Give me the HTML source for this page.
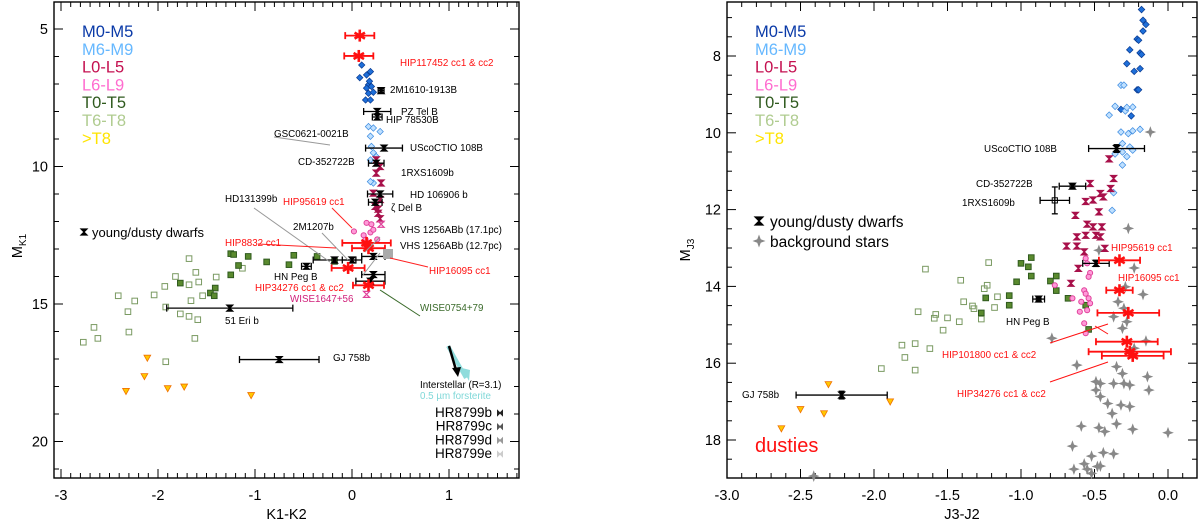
<!DOCTYPE html>
<html><head><meta charset="utf-8"><style>
body{margin:0;background:#fff;}
svg{display:block;font-family:"Liberation Sans",Arial,sans-serif;}
</style></head><body>
<svg id="c" width="1200" height="526" viewBox="0 0 1200 526"></svg>
<script>
// ===== Left panel data (K1-K2 vs M_K1) =====
const L_m05x=[0.10,0.19,0.08,0.15,0.17,0.15,0.20,0.17,0.14,0.19,0.22,0.18];
const L_m05y=[6.31,6.55,6.77,6.67,7.03,7.15,7.09,7.34,7.58,7.58,7.3,6.9];
const L_m69x=[0.17,0.22,0.29,0.19,0.20,0.22,0.25,0.19,0.22,0.19];
const L_m69y=[8.55,8.60,8.73,8.90,9.27,9.50,9.64,9.76,10.60,10.55];
const L_l05x=[0.25,0.29,0.25,0.30,0.22,0.29,0.24,0.27,0.29,0.27];
const L_l05y=[9.76,10.0,10.24,10.60,10.97,11.20,11.45,11.70,11.90,11.55];
const L_l69x=[0.02,0.15,0.19,0.14,0.22,0.17,0.26,0.12,0.20];
const L_l69y=[12.36,12.05,12.40,12.65,12.30,12.90,12.65,12.50,12.10];
const L_t05x=[-1.25,-1.22,-1.07,-0.88,-0.65,-0.60,-0.36,-0.18,-1.17,-1.25,-1.77,-1.41,-1.46,-1.42];
const L_t05y=[13.17,13.20,13.27,13.47,13.57,13.23,13.27,13.45,13.60,13.94,14.24,14.42,14.60,14.70];
const L_t68x=[-1.68,-1.13,-1.82,-1.61,-1.40,-1.93,-1.68,-1.58,-2.41,-2.04,-2.24,-1.54,-1.66,-2.31,-1.92,-1.77,-1.68,-1.59,-2.66,-2.30,-2.62,-1.62,-2.77,-1.92];
const L_t68y=[13.35,13.70,14.00,13.85,14.02,14.36,14.30,14.20,14.70,14.67,14.89,14.70,14.88,15.28,15.11,15.36,15.45,15.57,15.85,16.02,16.25,16.25,16.39,17.10];
const L_t8x=[-2.11,-2.14,-2.33,-1.90,-1.73,-1.04];
const L_t8y=[16.96,17.63,18.17,18.07,18.01,18.32];
const L_redx=[0.08,0.07,0.15,0.17,-0.04,0.17];
const L_redy=[5.24,5.98,12.78,12.97,13.69,14.32];
const L_redex=[0.15,0.15,0.25,0.17,0.17,0.16];
const L_blkx=[0.30,0.26,0.26,0.33,0.25,0.29,0.24,0.00,-0.18,-0.47,0.22,-1.26,0.22,0.19,-0.75];
const L_blky=[7.24,8.00,8.20,9.33,9.88,11.00,11.30,13.40,13.40,13.63,13.27,15.15,13.93,14.17,17.02];
const L_blkex=[0.03,0.14,0.05,0.19,0.08,0.13,0.07,0.10,0.22,0.05,0.12,0.65,0.12,0.15,0.41];
// ===== Right panel data (J3-J2 vs M_J3) =====
const R_m05x=[-0.18,-0.17,-0.15,-0.17,-0.21,-0.20,-0.26,-0.19,-0.18,-0.28,-0.19,-0.23,-0.21,-0.20,-0.32,-0.25];
const R_m05y=[6.79,7.07,7.18,7.35,7.56,7.59,7.84,7.92,7.96,8.20,8.33,8.40,8.88,8.88,9.39,9.56];
const R_m69x=[-0.32,-0.30,-0.36,-0.40,-0.29,-0.24,-0.28,-0.32,-0.27,-0.24,-0.19,-0.31,-0.26,-0.31,-0.24,-0.36,-0.28,-0.31,-0.37,-0.38];
const R_m69y=[8.76,8.76,9.31,9.54,9.43,9.33,9.34,9.98,10.02,9.95,9.91,10.28,10.37,10.50,10.45,10.55,10.62,10.84,11.56,12.02];
const R_l05x=[-0.40,-0.37,-0.53,-0.39,-0.46,-0.51,-0.56,-0.44,-0.47,-0.63,-0.55,-0.56,-0.62,-0.69,-0.62,-0.43,-0.45,-0.51,-0.49,-0.46,-0.57,-0.61,-0.66];
const R_l05y=[10.68,11.19,11.32,11.45,11.58,11.75,11.79,11.67,12.06,12.15,12.38,12.67,12.71,12.95,12.95,13.01,12.45,12.45,12.67,12.71,13.10,13.53,13.92];
const R_l69x=[-0.56,-0.55,-0.53,-0.54,-0.57,-0.56,-0.54,-0.59,-0.53,-0.55,-0.57,-0.77,-0.65,-0.60,-0.56];
const R_l69y=[13.27,13.40,13.65,13.75,14.10,14.19,14.31,14.40,14.44,14.62,14.96,13.97,14.31,14.66,15.22];
const R_t05x=[-1.00,-0.95,-0.93,-0.93,-1.03,-1.24,-1.08,-1.08,-1.27,-0.76,-0.80,-0.76,-0.68,-0.56,-0.54];
const R_t05y=[13.40,13.49,13.25,13.73,13.88,14.30,14.24,14.49,14.69,13.73,13.86,14.11,14.31,14.49,15.12];
const R_t68x=[-1.65,-1.41,-1.22,-1.23,-1.25,-1.16,-1.39,-1.33,-1.32,-1.18,-1.27,-1.70,-1.58,-1.59,-1.50,-1.42,-1.53,-1.81,-1.72,-1.62,-1.79,-1.95,-1.72];
const R_t68y=[13.55,13.84,13.38,13.97,14.06,14.27,14.40,14.51,14.58,14.55,14.85,14.66,14.73,14.83,14.82,14.92,15.14,15.53,15.49,15.62,15.85,16.14,16.18];
const R_t8x=[-2.31,-1.89,-2.50,-2.34,-2.63];
const R_t8y=[16.55,17.00,17.20,17.31,17.70];
const R_bgx=[-0.12,-0.27,-0.47,-0.23,-0.29,-0.17,-0.34,-0.30,-0.37,-0.28,-0.31,-0.15,-0.23,-0.79,-0.35,-0.62,-0.31,-0.14,-0.49,-0.46,-0.37,-0.30,-0.26,-0.49,-0.13,-0.46,-0.41,-0.32,-0.26,-0.38,-0.59,-0.47,-0.43,-0.35,-0.24,0.00,-0.65,-0.52,-0.44,-0.37,-0.57,-0.48,-0.64,-0.55,-0.52,-0.46,-2.41];
const R_bgy=[9.98,12.49,13.06,13.52,14.01,14.21,14.40,14.57,14.79,14.92,15.09,15.42,15.61,15.35,16.09,16.05,16.27,16.35,16.48,16.53,16.53,16.53,16.57,16.70,16.70,16.87,17.05,17.09,17.13,17.31,17.64,17.68,17.78,17.58,17.72,17.81,18.16,18.42,18.33,18.36,18.62,18.69,18.76,18.76,18.87,18.68,18.94];
const R_redx=[-0.33,-0.33,-0.27,-0.28,-0.26,-0.24];
const R_redy=[13.32,14.10,14.69,15.44,15.70,15.81];
const R_redex=[0.14,0.09,0.21,0.21,0.28,0.21];
const R_blkx=[-0.35,-0.65,-0.77,-0.49,-0.88,-2.22];
const R_blky=[10.41,11.39,11.76,13.40,14.33,16.83];
const R_blkex=[0.19,0.09,0.10,0.09,0.04,0.31];
const R_blkey=[0.10,0.04,0.35,0.08,0.03,0.10];

const NS="http://www.w3.org/2000/svg";
const svg=document.getElementById('c');
function el(tag,attrs,parent){const e=document.createElementNS(NS,tag);for(const k in attrs)e.setAttribute(k,attrs[k]);(parent||svg).appendChild(e);return e;}
function txt(s,x,y,size,fill,anchor,name,parent){const t=el('text',{x:x,y:y,'font-size':size,fill:fill,'text-anchor':anchor||'start'},parent);t.textContent=s;


return t;}

const LX=v=>352+v*97, LY=v=>29+(v-5)*27.5;
const RX=v=>1168+v*147, RY=v=>56+(v-8)*38.4;

function mark(g,shape,x,y,fill,stroke,s){
  s=s||3.2;let e;
  if(shape==='diamond')e=el('polygon',{points:`${x},${y-s} ${x+s},${y} ${x},${y+s} ${x-s},${y}`,fill:fill,stroke:stroke,'stroke-width':0.7},g);
  else if(shape==='square')e=el('rect',{x:x-s+0.4,y:y-s+0.4,width:2*s-0.8,height:2*s-0.8,fill:fill,stroke:stroke,'stroke-width':1},g);
  else if(shape==='circle')e=el('circle',{cx:x,cy:y,r:s*0.85,fill:fill,stroke:stroke,'stroke-width':1},g);
  else if(shape==='tri')e=el('polygon',{points:`${x-s},${y-s*0.8} ${x+s},${y-s*0.8} ${x},${y+s}`,fill:fill,stroke:stroke,'stroke-width':0.8},g);
  else if(shape==='hour')e=el('polygon',{points:`${x-s},${y-s} ${x+s},${y-s} ${x-s},${y+s} ${x+s},${y+s}`,fill:fill,stroke:stroke,'stroke-width':1.2},g);
  else if(shape==='bow')e=el('polygon',{points:`${x-s},${y-s} ${x-s},${y+s} ${x+s},${y-s} ${x+s},${y+s}`,fill:fill,stroke:stroke,'stroke-width':1},g);
  else if(shape==='star'){const a=s*1.3,b=s*0.35;e=el('polygon',{points:`${x},${y-a} ${x+b},${y-b} ${x+a},${y} ${x+b},${y+b} ${x},${y+a} ${x-b},${y+b} ${x-a},${y} ${x-b},${y-b}`,fill:fill,stroke:'none'},g);}
  return e;
}
function series(name,xs,ys,sx,sy,shape,fill,stroke,s){
  const g=el('g',{});
  
  
  for(let i=0;i<xs.length;i++){const m=mark(g,shape,sx(xs[i]),sy(ys[i]),fill,stroke,s);
    
    }
}
function errs(name,xs,ys,ex,ey,sx,sy,color,w,kind,open){
  const g=el('g',{});
  
  
  for(let i=0;i<xs.length;i++){
    const cx=sx(xs[i]),cy=sy(ys[i]),x1=sx(xs[i]-ex[i]),x2=sx(xs[i]+ex[i]);
    el('line',{x1:x1,y1:cy,x2:x2,y2:cy,stroke:color,'stroke-width':w},g);
    el('line',{x1:x1,y1:cy-3.5,x2:x1,y2:cy+3.5,stroke:color,'stroke-width':w},g);
    el('line',{x1:x2,y1:cy-3.5,x2:x2,y2:cy+3.5,stroke:color,'stroke-width':w},g);
    if(ey){const y1=sy(ys[i]-ey[i]),y2=sy(ys[i]+ey[i]);
      el('line',{x1:cx,y1:y1,x2:cx,y2:y2,stroke:color,'stroke-width':w},g);
      el('line',{x1:cx-3,y1:y1,x2:cx+3,y2:y1,stroke:color,'stroke-width':w},g);
      el('line',{x1:cx-3,y1:y2,x2:cx+3,y2:y2,stroke:color,'stroke-width':w},g);}
    let m;
    if(kind==='red'){m=el('g',{},g);
      for(const a of [0,60,120]){el('line',{x1:cx-6,y1:cy,x2:cx+6,y2:cy,stroke:color,'stroke-width':2.6,transform:`rotate(${a+90} ${cx} ${cy})`},m);} }
    else m=mark(g,(open&&open[i])?'square':'hour',cx,cy,(open&&open[i])?'none':color,color,3);
    
    
  }
}
function frame(name,x0,x1,y0,y1,sx,sy,xmaj,xmin,xa,xb,ymaj,ymin,ya,yb,xlabels,ylabels,xtitle){
  const g=el('g',{});
  
  
  el('rect',{x:x0,y:y0,width:x1-x0,height:y1-y0,fill:'none',stroke:'#000','stroke-width':1.4},g);
  for(let v=xa;v<=xb+1e-6;v+=xmin){const X=sx(v);if(X<x0||X>x1)continue;const maj=Math.abs(v/xmaj-Math.round(v/xmaj))<1e-3;const L=maj?9:5;
    el('line',{x1:X,y1:y1,x2:X,y2:y1-L,stroke:'#000','stroke-width':1},g);el('line',{x1:X,y1:y0,x2:X,y2:y0+L,stroke:'#000','stroke-width':1},g);}
  for(let v=ya;v<=yb+1e-6;v+=ymin){const Y=sy(v);if(Y<y0||Y>y1)continue;const maj=Math.abs(v/ymaj-Math.round(v/ymaj))<1e-3;const L=maj?9:5;
    el('line',{x1:x0,y1:Y,x2:x0+L,y2:Y,stroke:'#000','stroke-width':1},g);el('line',{x1:x1,y1:Y,x2:x1-L,y2:Y,stroke:'#000','stroke-width':1},g);}
  xlabels.forEach(([v,s])=>txt(s,sx(v),500,14.5,'#000','middle',name+'-x-tick-label',g));
  ylabels.forEach(([v,s])=>txt(s,x0-6,sy(v)+5,14.5,'#000','end',name+'-y-tick-label',g));
  txt(xtitle,(x0+x1)/2,519,14.5,'#000','middle',name+'-x-axis-title',g);
}
function legend(prefix,x){
  const items=[['M0-M5','#0a3aa8'],['M6-M9','#66b8ff'],['L0-L5','#c41050'],['L6-L9','#ff6ccf'],['T0-T5','#2f5a1e'],['T6-T8','#b0cc90'],['>T8','#ffe400']];
  items.forEach((it,i)=>txt(it[0],x,37+i*17.8,16.5,it[1],'start',prefix+'-legend-'+it[0].toLowerCase().replace('>','gt-'),svg));
}

// ---------- LEFT ----------
frame('left',54,519,2,478,LX,LY,1,0.1,-3,1.7,5,1,5,21,[[-3,'-3'],[-2,'-2'],[-1,'-1'],[0,'0'],[1,'1']],[[5,'5'],[10,'10'],[15,'15'],[20,'20']],'K1-K2');
const yl=txt('M',22,246,14.5,'#000','middle','left-y-axis-title');yl.setAttribute('transform','rotate(-90 22 246)');
const ys=el('tspan',{'font-size':10,dy:4});ys.textContent='K1';yl.appendChild(ys);
legend('left',82);
mark(svg,'hour',84,232,'#000','#000',3);
txt('young/dusty dwarfs',92,237,13,'#000','start','left-legend-young-dusty');
series('left-t68',L_t68x,L_t68y,LX,LY,'square','none','#7a9a62',3.2);
series('left-t05',L_t05x,L_t05y,LX,LY,'square','#5a8a2e','#2f5a1e',3.2);
series('left-gtt8',L_t8x,L_t8y,LX,LY,'tri','#ffc800','#f07000',3.4);
series('left-m05',L_m05x,L_m05y,LX,LY,'diamond','#1e6fd9','#0a3a90',3.2);
series('left-m69',L_m69x,L_m69y,LX,LY,'diamond','#bfe0ff','#3a8ae0',3.2);
series('left-l05',L_l05x,L_l05y,LX,LY,'hour','#a8104a','#a8104a',3);
series('left-l69',L_l69x,L_l69y,LX,LY,'circle','#ff9ad8','#e0409a',3);
errs('left-companions',L_blkx,L_blky,L_blkex,null,LX,LY,'#000',1.3,'blk',[0,0,0,0,0,0,0,0,0,0,0,0,0,0,0]);
errs('left-dusties',L_redx,L_redy,L_redex,null,LX,LY,'#ff1010',1.8,'red');
mark(svg,'hour',LX(0.3),LY(12.1),'none','#e0409a',3);
mark(svg,'hour',LX(0.15),LY(14.65),'none','#e0409a',3);
el('rect',{x:383,y:249,width:10,height:10,fill:'#aaa'});
[[254,208,330,262,'#999'],[332,208,352,228,'#f22'],[322,233,348,260,'#999'],[258,244,336,248,'#f22'],[428,267,390,258,'#f22'],[420,316,380,290,'#3a6a2a'],[274,137,330,145,'#999'],[380,237,365,252,'#999'],[380,253,363,275,'#999']].forEach(l=>{const e=el('line',{x1:l[0],y1:l[1],x2:l[2],y2:l[3],stroke:l[4],'stroke-width':1});});
const LL=[['HIP117452 cc1 & cc2',400,66,'#ff1010'],['2M1610-1913B',390,93,'#000'],['PZ Tel B',401,115,'#000'],['HIP 78530B',386,123,'#000'],['GSC0621-0021B',274,137,'#000'],['UScoCTIO 108B',410,151,'#000'],['CD-352722B',298,165,'#000'],['1RXS1609b',401,176,'#000'],['HD 106906 b',410,198,'#000'],['ζ Del B',391,211,'#000'],['HD131399b',225,202,'#000'],['HIP95619 cc1',283,205,'#ff1010'],['2M1207b',293,230,'#000'],['VHS 1256ABb (17.1pc)',400,233,'#000'],['VHS 1256ABb (12.7pc)',400,249,'#000'],['HIP8832 cc1',225,246,'#ff1010'],['HIP16095 cc1',429,274,'#ff1010'],['HN Peg B',274,280,'#000'],['HIP34276 cc1 & cc2',255,291,'#ff1010'],['WISE1647+56',290,302,'#d0207a'],['WISE0754+79',420,311,'#3a6a2a'],['51 Eri b',225,324,'#000'],['GJ 758b',333,361,'#000'],['Interstellar (R=3.1)',420,388,'#000'],['0.5 µm forsterite',420,399,'#7fd8d8']];
LL.forEach(l=>txt(l[0],l[1],l[2],9.8,l[3],'start','left-label-'+l[0].toLowerCase().replace(/[^a-z0-9]+/g,'-')));
el('line',{x1:448,y1:346,x2:466,y2:378,stroke:'#8fdcdc','stroke-width':4});
el('line',{x1:449,y1:346,x2:456,y2:370,stroke:'#000','stroke-width':2.5});
el('polygon',{points:'452,368 461,367 458,377'});
el('polygon',{points:'462,368 470,370 469,381',fill:'#8fdcdc'});
[['HR8799b','#222'],['HR8799c','#555'],['HR8799d','#999'],['HR8799e','#ccc']].forEach((h,i)=>{const y=417+i*13.7;txt(h[0],492,y,13.5,'#000','end','left-legend-'+h[0].toLowerCase());
  const m=mark(svg,'bow',500,y-4,h[1],h[1],2.5);
  });

// ---------- RIGHT ----------
frame('right',727,1197,2,478,RX,RY,0.5,0.1,-3,0.2,2,0.5,6.5,19,[[-3,'-3.0'],[-2.5,'-2.5'],[-2,'-2.0'],[-1.5,'-1.5'],[-1,'-1.0'],[-0.5,'-0.5'],[0,'0.0']],[[8,'8'],[10,'10'],[12,'12'],[14,'14'],[16,'16'],[18,'18']],'J3-J2');
const yr=txt('M',690,250,14.5,'#000','middle','right-y-axis-title');yr.setAttribute('transform','rotate(-90 690 250)');
const yrs=el('tspan',{'font-size':10,dy:4});yrs.textContent='J3';yr.appendChild(yrs);
legend('right',755);
mark(svg,'hour',759,221,'#000','#000',4);
txt('young/dusty dwarfs',770,227,15.5,'#000','start','right-legend-young-dusty');
mark(svg,'star',759,241,'#888','#888',5);
txt('background stars',770,247,15.5,'#000','start','right-legend-background');
txt('dusties',755,452,20,'#ff1010','start','right-legend-dusties');
series('right-bg',R_bgx,R_bgy,RX,RY,'star','#888','#888',4.5);
series('right-t68',R_t68x,R_t68y,RX,RY,'square','none','#7a9a62',3.2);
series('right-t05',R_t05x,R_t05y,RX,RY,'square','#5a8a2e','#2f5a1e',3.2);
series('right-gtt8',R_t8x,R_t8y,RX,RY,'tri','#ffc800','#f07000',3.4);
series('right-m05',R_m05x,R_m05y,RX,RY,'diamond','#1e6fd9','#0a3a90',3.3);
series('right-m69',R_m69x,R_m69y,RX,RY,'diamond','#bfe0ff','#3a8ae0',3.3);
series('right-l05',R_l05x,R_l05y,RX,RY,'hour','#a8104a','#a8104a',3);
series('right-l69',R_l69x,R_l69y,RX,RY,'circle','#ff9ad8','#e0409a',3);
errs('right-companions',R_blkx,R_blky,R_blkex,R_blkey,RX,RY,'#000',1.3,'blk',[0,0,1,0,0,0]);
errs('right-dusties',R_redx,R_redy,R_redex,null,RX,RY,'#ff1010',1.8,'red');
[[1050,343,1108,324],[1095,326,1108,334],[1050,382,1108,362]].forEach(l=>{const e=el('line',{x1:l[0],y1:l[1],x2:l[2],y2:l[3],stroke:'#ff1010','stroke-width':1});});
const RL=[['UScoCTIO 108B',984,152,'#000'],['CD-352722B',976,187,'#000'],['1RXS1609b',962,206,'#000'],['HIP95619 cc1',1111,251,'#ff1010'],['HIP16095 cc1',1118,281,'#ff1010'],['HN Peg B',1006,325,'#000'],['HIP101800 cc1 & cc2',942,358,'#ff1010'],['HIP34276 cc1 & cc2',957,397,'#ff1010'],['GJ 758b',742,398,'#000']];
RL.forEach(l=>txt(l[0],l[1],l[2],9.8,l[3],'start','right-label-'+l[0].toLowerCase().replace(/[^a-z0-9]+/g,'-')));
</script>
</body></html>
